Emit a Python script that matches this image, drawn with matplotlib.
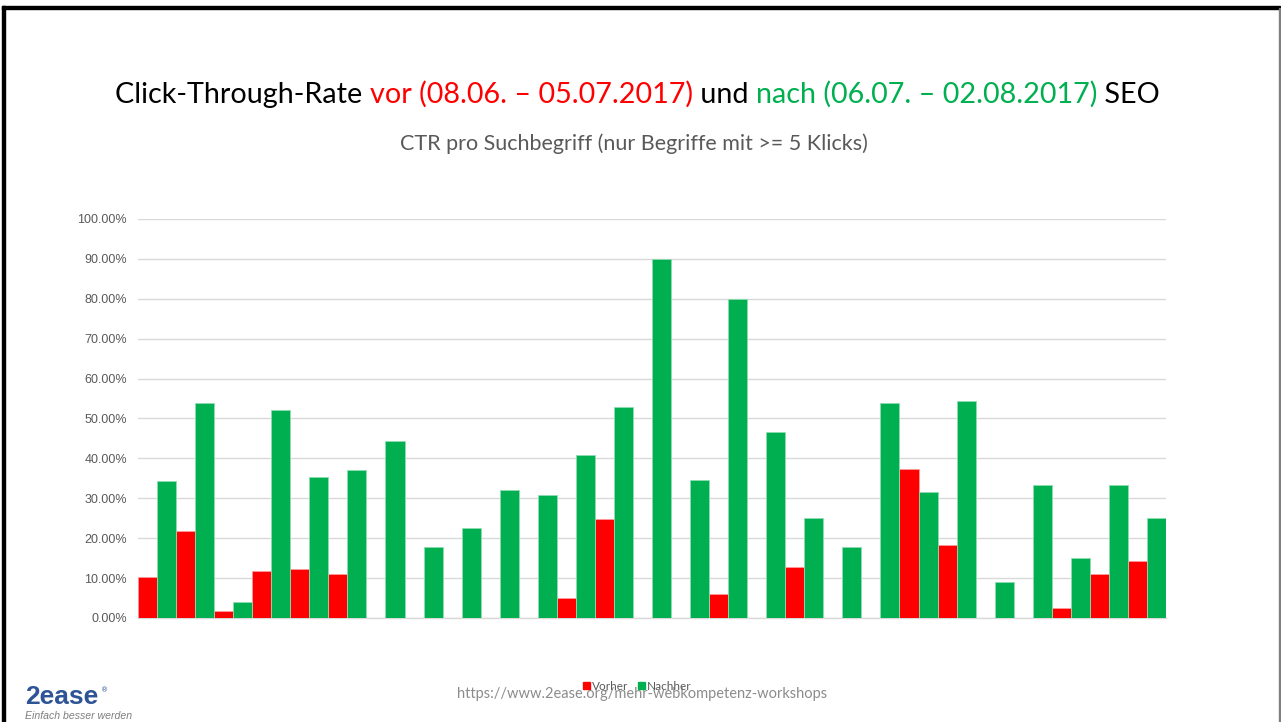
import numpy as np
import matplotlib
matplotlib.use("Agg")
from matplotlib import pyplot as plt
from matplotlib.patches import Rectangle, Patch

# Daten: CTR pro Suchbegriff in Prozent
vorher = [10.2, 21.7, 1.7, 11.9, 12.4, 11.0, 0, 0, 0, 0, 0, 5.0, 24.9, 0,
          0, 6.1, 0, 12.9, 0, 0, 37.4, 18.2, 0, 0, 2.4, 11.1, 14.2]
nachher = [34.4, 54.0, 3.9, 52.2, 35.3, 37.1, 44.4, 17.9, 22.6, 32.0, 30.9, 40.9, 53.0, 90.0,
           34.7, 79.9, 46.7, 25.0, 17.9, 53.9, 31.7, 54.5, 9.1, 33.4, 15.1, 33.4, 25.0]
y_ticks = [0, 10, 20, 30, 40, 50, 60, 70, 80, 90, 100]
serien = ["Vorher", "Nachher"]

rot = "#FF0000"
gruen = "#00B050"
grau = "#595959"

W, H = 1281, 722
fig = plt.figure(figsize=(W / 100, H / 100), dpi=100)
renderer = fig.canvas.get_renderer()


def px(x, y):
    # Pixel (von oben links) -> Figurkoordinaten
    return x / W, 1 - y / H


def breite(text, size, family, weight="normal"):
    t = fig.text(0, 0, text, fontsize=size, family=family, weight=weight)
    w = t.get_window_extent(renderer).width
    t.remove()
    return w


def passende_groesse(text, family, ziel_px, weight="normal"):
    return 20 * ziel_px / breite(text, 20, family, weight)


# Rahmen der Folie
fig.patches.append(Rectangle(px(2, 9), 1278 / W, 3 / H, transform=fig.transFigure,
                             color="black", zorder=0))
fig.patches.append(Rectangle(px(2, H), 3 / W, (H - 6) / H, transform=fig.transFigure,
                             color="black", zorder=0))
fig.patches.append(Rectangle(px(1278.5, H), 1.2 / W, (H - 8) / H, transform=fig.transFigure,
                             color="#7f7f7f", zorder=0))

# Diagramm
ax = fig.add_axes([138 / W, (H - 618) / H, 1028 / W, 399 / H])
x = np.arange(len(nachher))
ax.bar(x - 0.25, vorher, width=0.5, color=rot, edgecolor="#ff9a9a", linewidth=0.6, zorder=3)
ax.bar(x + 0.25, nachher, width=0.5, color=gruen, edgecolor="#8fdcb2", linewidth=0.6, zorder=3)

ax.set_xlim(-0.5, len(nachher) - 0.5)
ax.set_ylim(0, 100)
ax.set_yticks(y_ticks)
ax.set_yticklabels(["%.2f%%" % v for v in y_ticks], family="Liberation Sans",
                   fontsize=9, color=grau)
ax.set_xticks([])
ax.tick_params(axis="y", length=0, pad=8)
ax.grid(axis="y", color="#d9d9d9", linewidth=1, zorder=0)
for s in ["top", "right", "left"]:
    ax.spines[s].set_visible(False)
ax.spines["bottom"].set_color("#d9d9d9")
ax.spines["bottom"].set_linewidth(1)
ax.set_facecolor("none")

# Titel mit farbigen Teilen
teile = [("Click-Through-Rate ", "black"),
         ("vor (08.06. \u2013 05.07.2017)", rot),
         (" und ", "black"),
         ("nach (06.07. \u2013 02.08.2017)", gruen),
         (" SEO", "black")]
titel_font = "Lato"
ganz = "".join(t for t, c in teile)
fs = passende_groesse(ganz, titel_font, 1043)
x0 = 115
vorne = ""
ref = breite("|", fs, titel_font)
for text, farbe in teile:
    dx = breite(vorne + "|", fs, titel_font) - ref if vorne else 0
    fig.text(*px(x0 + dx, 103), text, fontsize=fs, family=titel_font, color=farbe,
             ha="left", va="baseline")
    vorne += text

# Untertitel
untertitel = "CTR pro Suchbegriff (nur Begriffe mit >= 5 Klicks)"
fs2 = passende_groesse(untertitel, titel_font, 469)
fig.text(*px(633.5, 150), untertitel, fontsize=fs2, family=titel_font, color=grau,
         ha="center", va="baseline")

# Legende
handles = [Patch(color=rot), Patch(color=gruen)]
leg = fig.legend(handles, serien, loc="center", bbox_to_anchor=px(637, 686), ncol=2,
                 frameon=False, handlelength=0.6, handleheight=0.6,
                 handletextpad=0.15, columnspacing=0.8, borderpad=0, borderaxespad=0,
                 prop={"family": titel_font, "size": 8.5})
for t in leg.get_texts():
    t.set_color(grau)

# Fusszeile
url = "https://www.2ease.org/mehr-webkompetenz-workshops"
fs3 = passende_groesse(url, titel_font, 371)
fig.text(*px(642.5, 698), url, fontsize=fs3, family=titel_font, color="#8c8c8c",
         ha="center", va="baseline")

# Logo
fig.text(*px(25, 704), "2ease", fontsize=19, family="Liberation Sans", weight="bold",
         color="#2f5496", ha="left", va="baseline")
fig.text(*px(101, 692), "\u00ae", fontsize=5, family="DejaVu Sans", color="#2f5496",
         ha="left", va="baseline")
fig.text(*px(25, 719), "Einfach besser werden", fontsize=7.6, family="Liberation Sans",
         style="italic", color="#7f7f7f", ha="left", va="baseline")

fig.savefig("out.png", dpi=100)
